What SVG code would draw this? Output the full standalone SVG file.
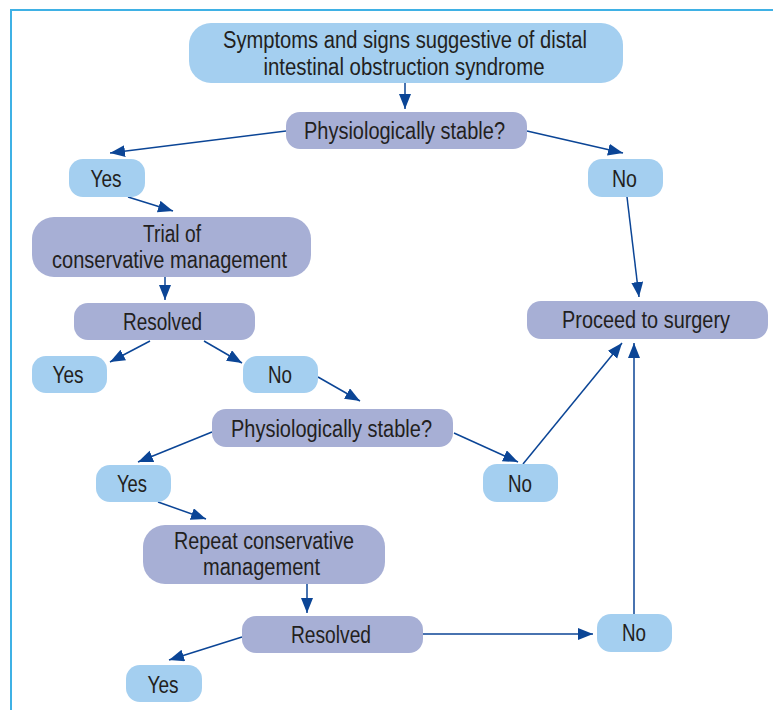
<svg xmlns="http://www.w3.org/2000/svg" width="773" height="710" viewBox="0 0 773 710">
<defs>
<marker id="ah" markerUnits="userSpaceOnUse" markerWidth="16" markerHeight="13" refX="15" refY="6" orient="auto">
<path d="M0,0 L15,6 L0,12 z" fill="#0b4596"/>
</marker>
<style>
.lb{fill:#a4cff0}
.lv{fill:#a7afd5}
.t{font-family:"Liberation Sans",Arial,sans-serif;font-size:23px;fill:#231f20;text-anchor:middle}
.c{stroke:#0b4596;stroke-width:1.5;fill:none;marker-end:url(#ah)}
.b{stroke:#3fb1e5;stroke-width:2;fill:none}
</style>
</defs>
<rect width="773" height="710" fill="#ffffff"/>
<path class="b" d="M11,710 V10 H773"/>

<g id="connectors">
<line class="c" x1="405" y1="83" x2="405" y2="109"/>
<line class="c" x1="286" y1="131" x2="110" y2="153"/>
<line class="c" x1="527" y1="131" x2="623" y2="153"/>
<line class="c" x1="128" y1="197" x2="173" y2="211"/>
<line class="c" x1="627" y1="197" x2="639" y2="297"/>
<line class="c" x1="165" y1="277" x2="165" y2="300"/>
<line class="c" x1="150" y1="341" x2="110" y2="362"/>
<line class="c" x1="204" y1="341" x2="242" y2="363"/>
<line class="c" x1="318" y1="377" x2="360" y2="401"/>
<line class="c" x1="212" y1="432" x2="138" y2="462"/>
<line class="c" x1="454" y1="433" x2="518" y2="462"/>
<line class="c" x1="523" y1="464" x2="622" y2="343"/>
<line class="c" x1="634" y1="614" x2="634" y2="343"/>
<line class="c" x1="158" y1="502" x2="206" y2="519"/>
<line class="c" x1="307" y1="584" x2="307" y2="613"/>
<line class="c" x1="242" y1="637" x2="169" y2="660"/>
<line class="c" x1="423" y1="634" x2="593" y2="634"/>
</g>

<g id="n-symptoms">
<rect class="lb" x="189" y="23" width="434" height="60" rx="22"/>
<text class="t" x="405" y="48" textLength="364" lengthAdjust="spacingAndGlyphs">Symptoms and signs suggestive of distal</text>
<text class="t" x="404" y="75" textLength="281" lengthAdjust="spacingAndGlyphs">intestinal obstruction syndrome</text>
</g>
<g id="n-stable1">
<rect class="lv" x="286" y="112" width="241" height="37" rx="14"/>
<text class="t" x="404.5" y="139" textLength="201" lengthAdjust="spacingAndGlyphs">Physiologically stable?</text>
</g>
<g id="n-yes1">
<rect class="lb" x="69" y="159" width="76" height="38" rx="14"/>
<text class="t" x="106" y="187" textLength="31" lengthAdjust="spacingAndGlyphs">Yes</text>
</g>
<g id="n-no1">
<rect class="lb" x="588" y="159" width="75" height="38" rx="14"/>
<text class="t" x="624.5" y="187" textLength="25" lengthAdjust="spacingAndGlyphs">No</text>
</g>
<g id="n-trial">
<rect class="lv" x="32" y="217" width="279" height="60" rx="22"/>
<text class="t" x="172" y="242" textLength="58" lengthAdjust="spacingAndGlyphs">Trial of</text>
<text class="t" x="169.5" y="268" textLength="235" lengthAdjust="spacingAndGlyphs">conservative management</text>
</g>
<g id="n-resolved1">
<rect class="lv" x="74" y="303" width="181" height="37" rx="14"/>
<text class="t" x="162.5" y="330" textLength="79" lengthAdjust="spacingAndGlyphs">Resolved</text>
</g>
<g id="n-yes2">
<rect class="lb" x="32" y="356" width="75" height="37" rx="14"/>
<text class="t" x="68" y="383" textLength="31" lengthAdjust="spacingAndGlyphs">Yes</text>
</g>
<g id="n-no2">
<rect class="lb" x="243" y="356" width="75" height="37" rx="14"/>
<text class="t" x="280" y="383" textLength="24" lengthAdjust="spacingAndGlyphs">No</text>
</g>
<g id="n-stable2">
<rect class="lv" x="212" y="409" width="241" height="38" rx="14"/>
<text class="t" x="331.5" y="437" textLength="201" lengthAdjust="spacingAndGlyphs">Physiologically stable?</text>
</g>
<g id="n-no3">
<rect class="lb" x="483" y="464" width="75" height="38" rx="14"/>
<text class="t" x="520" y="492" textLength="24" lengthAdjust="spacingAndGlyphs">No</text>
</g>
<g id="n-surgery">
<rect class="lv" x="527" y="301" width="241" height="38" rx="14"/>
<text class="t" x="646" y="328" textLength="168" lengthAdjust="spacingAndGlyphs">Proceed to surgery</text>
</g>
<g id="n-yes3">
<rect class="lb" x="96" y="465" width="75" height="37" rx="14"/>
<text class="t" x="132" y="492" textLength="30" lengthAdjust="spacingAndGlyphs">Yes</text>
</g>
<g id="n-repeat">
<rect class="lv" x="143" y="525" width="242" height="59" rx="22"/>
<text class="t" x="264" y="549" textLength="180" lengthAdjust="spacingAndGlyphs">Repeat conservative</text>
<text class="t" x="261.5" y="575" textLength="117" lengthAdjust="spacingAndGlyphs">management</text>
</g>
<g id="n-resolved2">
<rect class="lv" x="242" y="616" width="181" height="37" rx="14"/>
<text class="t" x="331" y="643" textLength="80" lengthAdjust="spacingAndGlyphs">Resolved</text>
</g>
<g id="n-no4">
<rect class="lb" x="597" y="614" width="75" height="38" rx="14"/>
<text class="t" x="634" y="641" textLength="24" lengthAdjust="spacingAndGlyphs">No</text>
</g>
<g id="n-yes4">
<rect class="lb" x="126" y="665" width="76" height="37" rx="14"/>
<text class="t" x="163" y="693" textLength="31" lengthAdjust="spacingAndGlyphs">Yes</text>
</g>
</svg>
